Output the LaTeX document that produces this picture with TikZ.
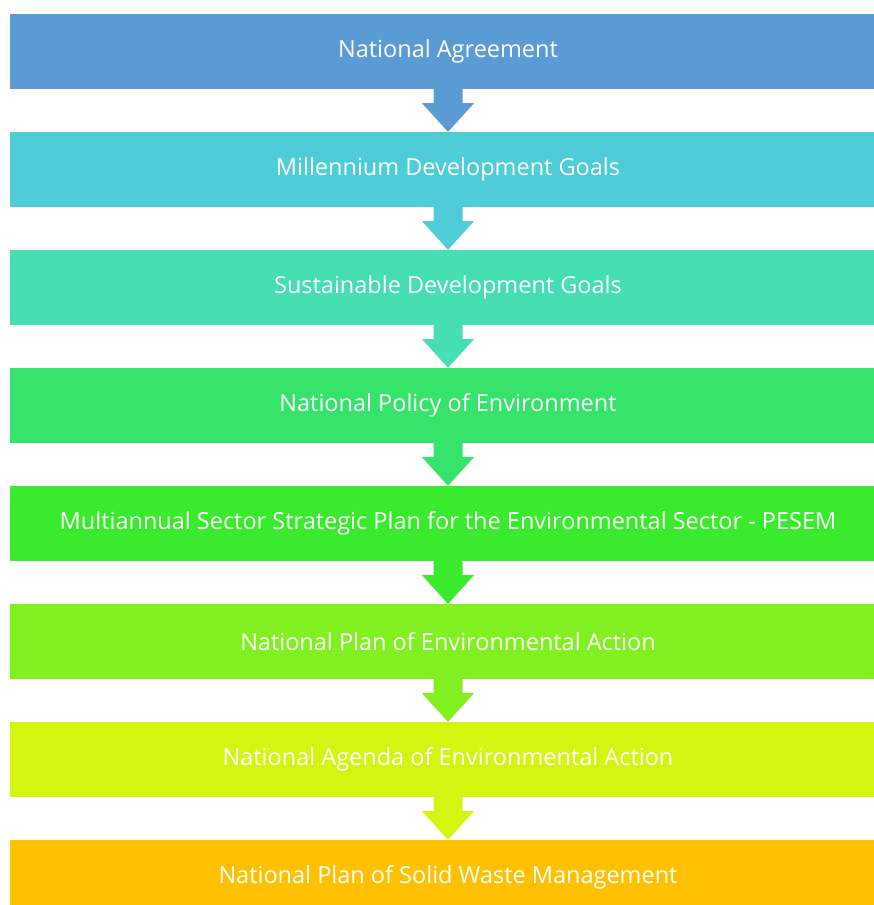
\documentclass[tikz,border=0pt]{standalone}
\usepackage{fontspec}
\setmainfont{Open Sans}
\definecolor{c1}{RGB}{91,155,213}
\definecolor{c2}{RGB}{78,205,216}
\definecolor{c3}{RGB}{70,223,180}
\definecolor{c4}{RGB}{54,228,108}
\definecolor{c5}{RGB}{58,235,45}
\definecolor{c6}{RGB}{128,240,32}
\definecolor{c7}{RGB}{212,245,16}
\definecolor{c8}{RGB}{255,192,0}
\tikzset{
  box/.style={minimum width=876pt, minimum height=75pt, inner sep=0pt, text=white,
    font=\fontsize{23.5}{27}\selectfont},
}
\newcommand{\blockarrow}[3]{%
  \fill[#3] ([xshift=-14.5pt]#1.south) -- ([xshift=-14.5pt,yshift=-14pt]#1.south)
    -- ([xshift=-26pt,yshift=-14pt]#1.south) -- (#2.north)
    -- ([xshift=26pt,yshift=-14pt]#1.south) -- ([xshift=14.5pt,yshift=-14pt]#1.south)
    -- ([xshift=14.5pt]#1.south) -- cycle;}
\begin{document}
\begin{tikzpicture}[x=1pt,y=1pt]
\useasboundingbox (0,0) rectangle (874,-905);
\clip (0,0) rectangle (874,-905);
\fill[white] (0,0) rectangle (874,-905);
\node[box, fill=c1] (b1) at (448,-51.5) {National Agreement};
\node[box, fill=c2] (b2) at (448,-169.5) {Millennium Development Goals};
\node[box, fill=c3] (b3) at (448,-287.5) {Sustainable Development Goals};
\node[box, fill=c4] (b4) at (448,-405.5) {National Policy of Environment};
\node[box, fill=c5] (b5) at (448,-523.5) {Multiannual Sector Strategic Plan for the Environmental Sector - PESEM};
\node[box, fill=c6] (b6) at (448,-641.5) {National Plan of Environmental Action};
\node[box, fill=c7] (b7) at (448,-759.5) {National Agenda of Environmental Action};
\node[box, fill=c8] (b8) at (448,-877.5) {National Plan of Solid Waste Management};
\blockarrow{b1}{b2}{c1}
\blockarrow{b2}{b3}{c2}
\blockarrow{b3}{b4}{c3}
\blockarrow{b4}{b5}{c4}
\blockarrow{b5}{b6}{c5}
\blockarrow{b6}{b7}{c6}
\blockarrow{b7}{b8}{c7}
\end{tikzpicture}
\end{document}
